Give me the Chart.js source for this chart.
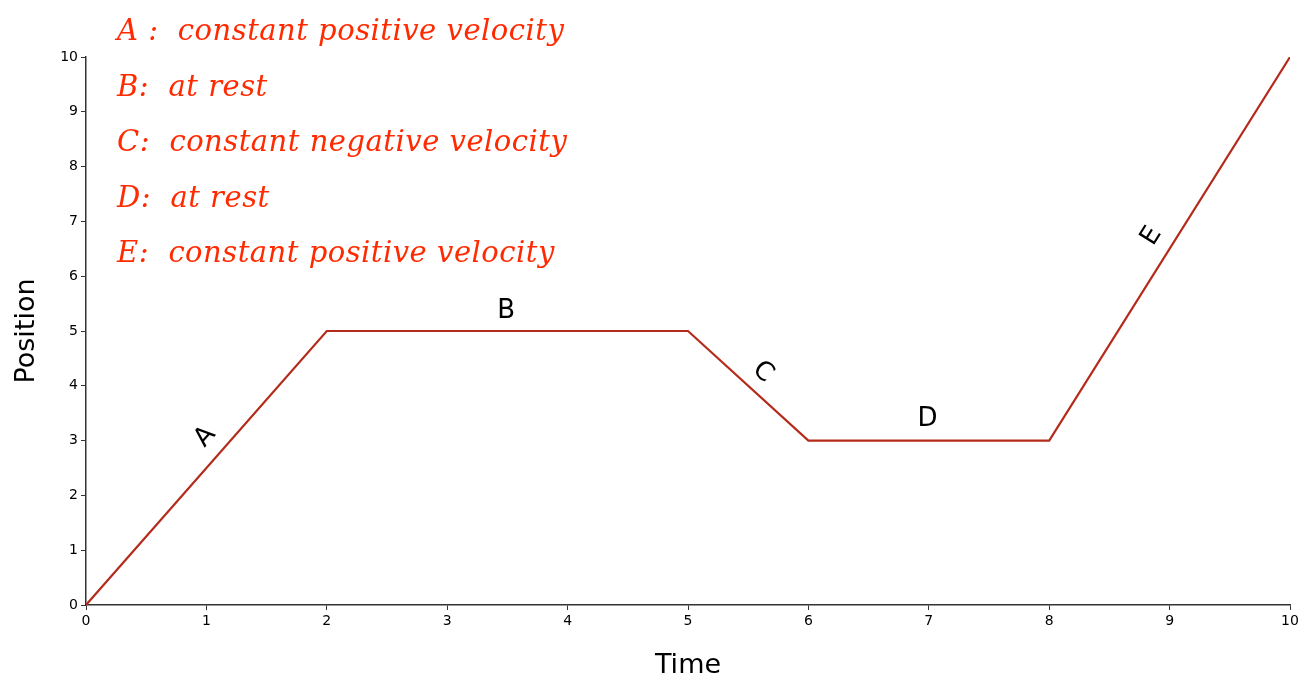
<!DOCTYPE html>
<html>
<head>
<meta charset="utf-8">
<script src="https://cdn.jsdelivr.net/npm/chart.js@4"></script>
<style>
  body { margin: 0; background: #fff; }
  #wrap { position: relative; width: 1308px; height: 683px; }
  #notes {
    position: absolute; left: 117px; top: 3px;
    font-family: "DejaVu Serif", serif; font-style: italic;
    font-size: 29px; line-height: 55.5px; color: #ff2a00;
    letter-spacing: 0.5px; white-space: pre;
  }
</style>
</head>
<body>
<div id="wrap">
  <canvas id="c" width="1308" height="683"></canvas>
  <div id="notes"></div>
</div>
<script>
// position-time graph with segment labels

const times = [0, 2, 5, 6, 8, 10];
const positions = [0, 5, 5, 3, 3, 10];
const xTicks = [0, 1, 2, 3, 4, 5, 6, 7, 8, 9, 10];
const yTicks = [0, 1, 2, 3, 4, 5, 6, 7, 8, 9, 10];

// segment labels: letter, where it sits (data units), which segment it follows
const segLetters = ["A", "B", "C", "D", "E"];
const segLabelX = [0.99, 3.49, 5.62, 6.99, 8.85];
const segLabelY = [3.07, 5.36, 4.25, 3.39, 6.73];

const notes = [
  "A :  constant positive velocity",
  "B:  at rest",
  "C:  constant negative velocity",
  "D:  at rest",
  "E:  constant positive velocity"
];

document.getElementById("notes").textContent = notes.join("\n");

const segLabelPlugin = {
  id: "segLabels",
  afterDatasetsDraw(chart) {
    const { ctx, scales: { x, y } } = chart;
    ctx.save();
    ctx.fillStyle = "#000";
    ctx.font = "26px 'DejaVu Sans', sans-serif";
    ctx.textAlign = "center";
    ctx.textBaseline = "middle";
    segLetters.forEach((l, i) => {
      const dx = x.getPixelForValue(times[i + 1]) - x.getPixelForValue(times[i]);
      const dy = y.getPixelForValue(positions[i + 1]) - y.getPixelForValue(positions[i]);
      ctx.save();
      ctx.translate(x.getPixelForValue(segLabelX[i]), y.getPixelForValue(segLabelY[i]));
      ctx.rotate(Math.atan2(dy, dx));
      ctx.fillText(l, 0, 0);
      ctx.restore();
    });
    ctx.restore();
  }
};

const axisCommon = {
  type: "linear",
  min: 0,
  max: 10,
  grid: { drawOnChartArea: false, tickLength: 5, color: "#333", lineWidth: 1 },
  border: { display: true, color: "#333", width: 1.5 },
  ticks: { color: "#000", font: { family: "DejaVu Sans", size: 14 }, padding: 3 }
};

new Chart(document.getElementById("c"), {
  type: "line",
  data: {
    datasets: [{
      data: times.map((t, i) => ({ x: t, y: positions[i] })),
      borderColor: "#b52b1b",
      borderWidth: 2.2,
      pointRadius: 0,
      tension: 0,
      fill: false
    }]
  },
  options: {
    responsive: false,
    animation: false,
    layout: { padding: { top: 57, right: 18, left: 0, bottom: 0 } },
    plugins: { legend: { display: false }, tooltip: { enabled: false } },
    scales: {
      x: {
        ...axisCommon,
        afterBuildTicks: s => { s.ticks = xTicks.map(v => ({ value: v })); },
        afterFit: s => { s.height = 78; },
        title: { display: true, text: "Time", color: "#000", font: { family: "DejaVu Sans", size: 27 }, padding: { top: 4, bottom: 1 } }
      },
      y: {
        ...axisCommon,
        afterBuildTicks: s => { s.ticks = yTicks.map(v => ({ value: v })); },
        afterFit: s => { s.width = 86; },
        title: { display: true, text: "Position", color: "#000", font: { family: "DejaVu Sans", size: 27 }, padding: { top: 11, bottom: 10 } }
      }
    }
  },
  plugins: [segLabelPlugin]
});
</script>
</body>
</html>
